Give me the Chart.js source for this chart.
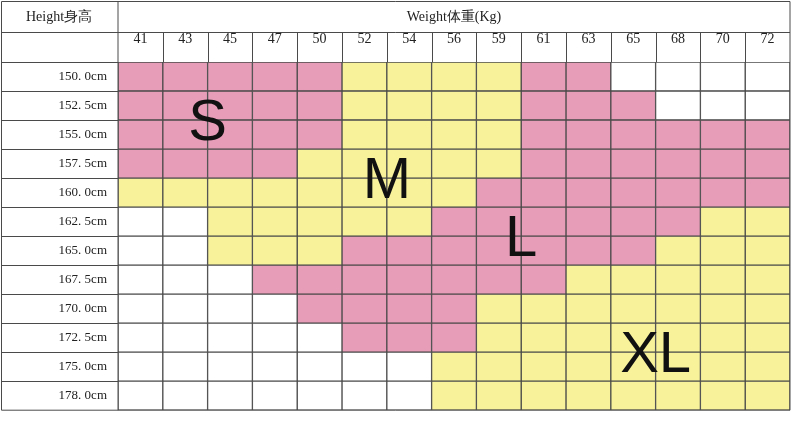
<!DOCTYPE html>
<html><head><meta charset="utf-8">
<script src="https://cdn.jsdelivr.net/npm/chart.js@4"></script>
<style>body{margin:0;background:#fff;overflow:hidden}</style>
</head><body><canvas id="c" width="791" height="421"></canvas>
<script>
const weights = ['41','43','45','47','50','52','54','56','59','61','63','65','68','70','72'];
const heights = ['150. 0cm','152. 5cm','155. 0cm','157. 5cm','160. 0cm','162. 5cm','165. 0cm','167. 5cm','170. 0cm','172. 5cm','175. 0cm','178. 0cm'];
// one letter per weight column: S, M, L, X(L) or '.' for empty
const sizeRows = [
  'SSSSSMMMMLL....',
  'SSSSSMMMMLLL...',
  'SSSSSMMMMLLLLLL',
  'SSSSMMMMMLLLLLL',
  'MMMMMMMMLLLLLLL',
  '..MMMMMLLLLLLXX',
  '..MMMLLLLLLLXXX',
  '...LLLLLLLXXXXX',
  '....LLLLXXXXXXX',
  '.....LLLXXXXXXX',
  '.......XXXXXXXX',
  '.......XXXXXXXX'
];
const sizeNames = ['S','M','L','XL'];
const sizeX = [2, 6, 9, 12];
const sizeY = [1.5, 3.5, 5.5, 9.5];

const colors = {S:'#e79cb7', M:'#f8f39a', L:'#e79cb7', X:'#f8f39a', '.':'#ffffff'};
const line = '#4a4a4a';

const datasets = weights.map((w, c) => ({
  data: heights.map((h, r) => [c, c + 1]),
  backgroundColor: sizeRows.map(row => colors[row[c]]),
  borderColor: line,
  borderWidth: 1,
  borderSkipped: false
}));

const overlay = {
  id: 'overlay',
  afterDraw(chart) {
    const ctx = chart.ctx, a = chart.chartArea, x = chart.scales.x, y = chart.scales.y;
    ctx.save();
    ctx.strokeStyle = line;
    ctx.lineWidth = 1;
    ctx.beginPath();
    ctx.rect(1.5, 1.5, a.right - 1.5, a.bottom - 1.5);
    ctx.moveTo(1.5, 32.5); ctx.lineTo(a.right, 32.5);
    ctx.moveTo(a.left, 1.5); ctx.lineTo(a.left, a.bottom);
    for (let c = 1; c < weights.length; c++) {
      const px = Math.round(x.getPixelForValue(c)) + 0.5;
      ctx.moveTo(px, 32.5); ctx.lineTo(px, a.top);
    }
    const step = y.getPixelForValue(1) - y.getPixelForValue(0);
    for (let r = 0; r < heights.length; r++) {
      const py = Math.round(y.getPixelForValue(r) - step / 2) + 0.5;
      ctx.moveTo(1.5, py); ctx.lineTo(a.left, py);
    }
    ctx.stroke();
    ctx.fillStyle = '#222';
    ctx.textAlign = 'center';
    ctx.textBaseline = 'middle';
    ctx.font = '14px "Liberation Serif", serif';
    ctx.fillText('Height身高', a.left / 2, 17);
    ctx.fillText('Weight体重(Kg)', (a.left + a.right) / 2, 17);
    ctx.font = '58px "Liberation Sans Narrow", "Liberation Sans", sans-serif';
    ctx.fillStyle = '#111';
    sizeNames.forEach((s, i) => {
      const yr = Math.floor(sizeY[i]);
      const py = (y.getPixelForValue(yr) + y.getPixelForValue(yr + 1)) / 2;
      ctx.fillText(s, x.getPixelForValue(sizeX[i]), py + 4);
    });
    ctx.restore();
  }
};

new Chart(document.getElementById('c'), {
  type: 'bar',
  data: { labels: heights, datasets },
  options: {
    indexAxis: 'y',
    animation: false,
    responsive: false,
    layout: { padding: { right: 1, bottom: 2 } },
    plugins: { legend: { display: false }, tooltip: { enabled: false } },
    datasets: { bar: { grouped: false, barPercentage: 1, categoryPercentage: 1 } },
    scales: {
      x: { type: 'linear', min: 0, max: 15, display: false },
      x2: {
        type: 'category', labels: weights, position: 'top', offset: true,
        grid: { display: false }, border: { display: false },
        ticks: { color: '#222', font: { family: '"Liberation Serif", serif', size: 14 }, padding: 6 },
        afterFit(s) { s.height = 62; }
      },
      y: {
        grid: { display: false }, border: { display: false },
        ticks: { color: '#222', font: { family: '"Liberation Serif", serif', size: 13 }, crossAlign: 'center' },
        afterFit(s) { s.width = 118; }
      }
    }
  },
  plugins: [overlay]
});
</script></body></html>
